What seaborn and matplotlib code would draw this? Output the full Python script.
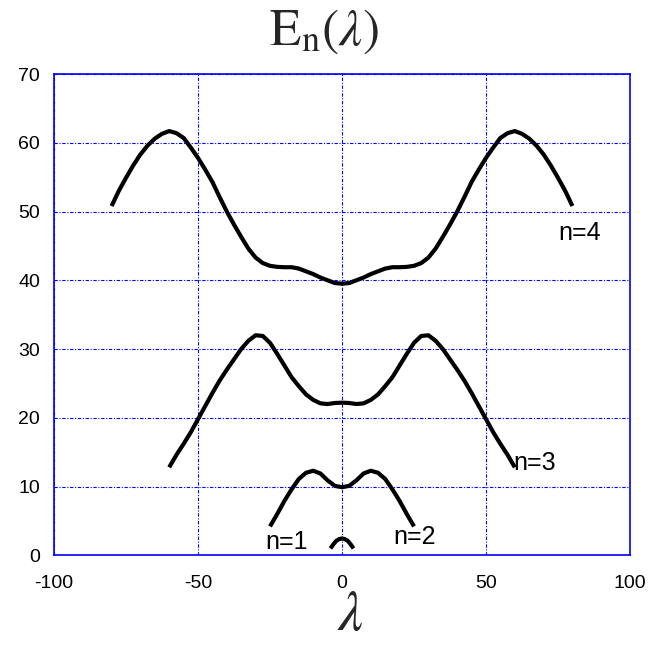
import numpy as np
import pandas as pd
import matplotlib
matplotlib.use("Agg")
import matplotlib.pyplot as plt
import seaborn as sns

# ---- data ----
x4 = [-80, -77.5, -75, -72.5, -70, -67.5, -65, -62.5, -60, -57.5, -55, -52.5, -50, -47.5, -45, -42.5,
      -40, -37.5, -35, -32.5, -30, -27.5, -25, -22.5, -20, -17.5, -15, -12.5, -10, -7.5, -5, -2.5, 0,
      2.5, 5, 7.5, 10, 12.5, 15, 17.5, 20, 22.5, 25, 27.5, 30, 32.5, 35, 37.5, 40, 42.5, 45, 47.5,
      50, 52.5, 55, 57.5, 60, 62.5, 65, 67.5, 70, 72.5, 75, 77.5, 80]
e4 = [50.8, 53.0, 54.9, 56.7, 58.3, 59.6, 60.6, 61.3, 61.7, 61.4, 60.7, 59.3, 57.8, 56.1, 54.3, 52.1,
      50.0, 48.1, 46.3, 44.6, 43.3, 42.5, 42.1, 41.95, 41.9, 41.9, 41.7, 41.3, 40.9, 40.4, 40.0, 39.6, 39.5,
      39.6, 40.0, 40.4, 40.9, 41.3, 41.7, 41.9, 41.9, 41.95, 42.1, 42.5, 43.3, 44.6, 46.3, 48.1, 50.0, 52.1,
      54.3, 56.1, 57.8, 59.3, 60.7, 61.4, 61.7, 61.3, 60.6, 59.6, 58.3, 56.7, 54.9, 53.0, 50.8]

x3 = [-60, -57.5, -55, -52.5, -50, -47.5, -45, -42.5, -40, -37.5, -35, -32.5, -30, -27.5, -25, -22.5,
      -20, -17.5, -15, -12.5, -10, -7.5, -5, -2.5, 0, 2.5, 5, 7.5, 10, 12.5, 15, 17.5, 20, 22.5, 25,
      27.5, 30, 32.5, 35, 37.5, 40, 42.5, 45, 47.5, 50, 52.5, 55, 57.5, 60]
e3 = [12.8, 14.6, 16.2, 17.9, 19.8, 21.7, 23.6, 25.4, 27.0, 28.5, 30.0, 31.2, 32.0, 31.9, 30.9, 29.3,
      27.6, 25.9, 24.6, 23.4, 22.6, 22.1, 22.0, 22.15, 22.2, 22.15, 22.0, 22.1, 22.6, 23.4, 24.6, 25.9,
      27.6, 29.3, 30.9, 31.9, 32.0, 31.2, 30.0, 28.5, 27.0, 25.4, 23.6, 21.7, 19.8, 17.9, 16.2, 14.6, 12.8]

x2 = [-25, -22.5, -20, -17.5, -15, -12.5, -10, -7.5, -5, -2.5, 0, 2.5, 5, 7.5, 10, 12.5, 15, 17.5, 20,
      22.5, 25]
e2 = [4.2, 6.0, 7.9, 9.6, 11.1, 12.0, 12.3, 11.9, 10.9, 10.1, 9.9, 10.1, 10.9, 11.9, 12.3, 12.0, 11.1,
      9.6, 7.9, 6.0, 4.2]

x1 = [-4, -3, -2, -1, 0, 1, 2, 3, 4]
e1 = [1.0, 1.6, 2.1, 2.35, 2.45, 2.35, 2.1, 1.6, 1.0]

labels = ["n=4", "n=3", "n=2", "n=1"]
label_pos = [(75, 46.9), (59.5, 13.4), (17.8, 2.7), (-26.7, 2.0)]

xticks = [-100, -50, 0, 50, 100]
yticks = [0, 10, 20, 30, 40, 50, 60, 70]

# ---- plot ----
sns.set_style("white")
plt.rcParams["font.family"] = ["Liberation Sans", "DejaVu Sans"]
plt.rcParams["mathtext.fontset"] = "stix"

fig = plt.figure(figsize=(6.48, 6.45), dpi=100)
ax = fig.add_axes([54 / 648, 1 - 555.3 / 645, (630 - 54) / 648, (555.3 - 74) / 645])

for xs, es in [(x4, e4), (x3, e3), (x2, e2), (x1, e1)]:
    df = pd.DataFrame({"x": xs, "E": es})
    sns.lineplot(data=df, x="x", y="E", ax=ax, color="black", linewidth=3, sort=False,
                 estimator=None, solid_joinstyle="round", solid_capstyle="butt")

ax.set_xlim(-100, 100)
ax.set_ylim(0, 70)
ax.set_xticks(xticks)
ax.set_yticks(yticks)
ax.set_xticklabels([str(t) for t in xticks])
ax.set_yticklabels([str(t) for t in yticks])
ax.tick_params(length=0, labelsize=14, labelcolor="black")
ax.tick_params(axis="y", pad=10)
ax.tick_params(axis="x", pad=14)

ax.grid(True, color="blue", linestyle=(0, (3, 1.5, 1, 1.5)), linewidth=0.8)
for sp in ax.spines.values():
    sp.set_color("blue")
    sp.set_linewidth(1.2)
    sp.set_visible(True)

for lab, (lx, ly) in zip(labels, label_pos):
    ax.text(lx, ly, lab, fontsize=18, ha="left", va="center", color="black")

ax.set_xlabel("")
ax.set_ylabel("")
fig.text(350 / 648, 3 / 645, r"$\lambda$", fontsize=40, ha="center", va="bottom")
fig.text(0.5, 1 - 32 / 645, r"$\mathrm{E}_\mathrm{n}(\lambda)$", fontsize=37, ha="center",
         va="center")

fig.savefig("out.png", dpi=100)
